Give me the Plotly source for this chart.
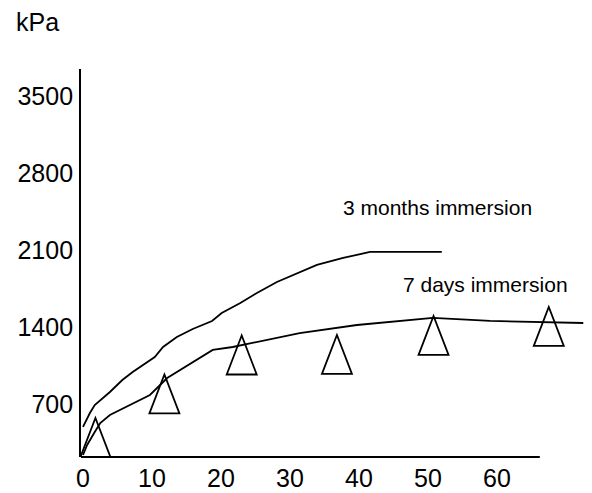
import plotly.graph_objects as go

# 3 months immersion curve
months3_x = [0, 1.0, 1.7, 2.9, 3.9, 5.7, 7.2, 10.4, 11.6, 13.6, 15.9, 18.7, 20.1, 22.8, 25.2, 28.1, 31.4, 33.9, 37.7, 41.6, 52.0]
months3_y = [491, 618, 691, 754, 809, 918, 991, 1127, 1218, 1309, 1382, 1454, 1527, 1618, 1709, 1809, 1900, 1964, 2027, 2082, 2082]

# 7 days immersion curve
days7_x = [0, 0.6, 1.7, 2.5, 3.9, 6.8, 9.7, 12.2, 18.8, 21.7, 31.4, 39.7, 44.5, 50.7, 59.0, 66.2, 72.5]
days7_y = [236, 327, 445, 527, 600, 691, 782, 936, 1191, 1218, 1345, 1418, 1445, 1482, 1455, 1445, 1436]

# measured points (triangles)
tri_x = [1.8, 11.8, 23.0, 36.8, 50.8, 67.5]
tri_y = [395, 791, 1145, 1150, 1323, 1405]

x_ticks = [0, 10, 20, 30, 40, 50, 60]
y_ticks = [700, 1400, 2100, 2800, 3500]

FONT = "Liberation Sans, Arial, sans-serif"

fig = go.Figure()
fig.add_trace(go.Scatter(x=months3_x, y=months3_y, mode="lines",
                         line=dict(color="black", width=1.8), showlegend=False))
fig.add_trace(go.Scatter(x=days7_x, y=days7_y, mode="lines",
                         line=dict(color="black", width=1.8), showlegend=False))

shapes = []
for tx, ty in zip(tri_x, tri_y):
    shapes.append(dict(type="path", xref="x", yref="y",
                       xsizemode="pixel", ysizemode="pixel",
                       xanchor=tx, yanchor=ty,
                       path="M-15,-19.5 L15,-19.5 L0,19.5 Z",
                       line=dict(color="black", width=1.8),
                       fillcolor="rgba(0,0,0,0)"))
# x axis baseline (shorter than plot area)
shapes.append(dict(type="line", xref="x", yref="paper", x0=-0.3, x1=66.2, y0=0, y1=0,
                   line=dict(color="black", width=1.8)))

fig.update_layout(
    width=584, height=485,
    margin=dict(l=73, r=7, t=61, b=36),
    paper_bgcolor="white", plot_bgcolor="white",
    font=dict(family=FONT, color="black"),
    shapes=shapes,
    xaxis=dict(range=[-0.29, 72.75], tickvals=x_ticks, showgrid=False, zeroline=False,
               showline=False, ticks="", tickfont=dict(size=25), automargin=False,
               ticklabelstandoff=4),
    yaxis=dict(range=[218, 3745], tickvals=y_ticks, showgrid=False, zeroline=False,
               showline=True, linecolor="black", linewidth=1.8, ticks="",
               tickfont=dict(size=25), automargin=False, ticklabelstandoff=1),
    annotations=[
        dict(text="3 months immersion", x=51.4, y=2482, xref="x", yref="y",
             showarrow=False, font=dict(size=21)),
        dict(text="7 days immersion", x=58.3, y=1782, xref="x", yref="y",
             showarrow=False, font=dict(size=21)),
        dict(text="kPa", x=-0.133, y=1.122, xref="paper", yref="paper",
             xanchor="left", yanchor="middle", showarrow=False, font=dict(size=25)),
    ],
)

fig.write_html("out.html")
